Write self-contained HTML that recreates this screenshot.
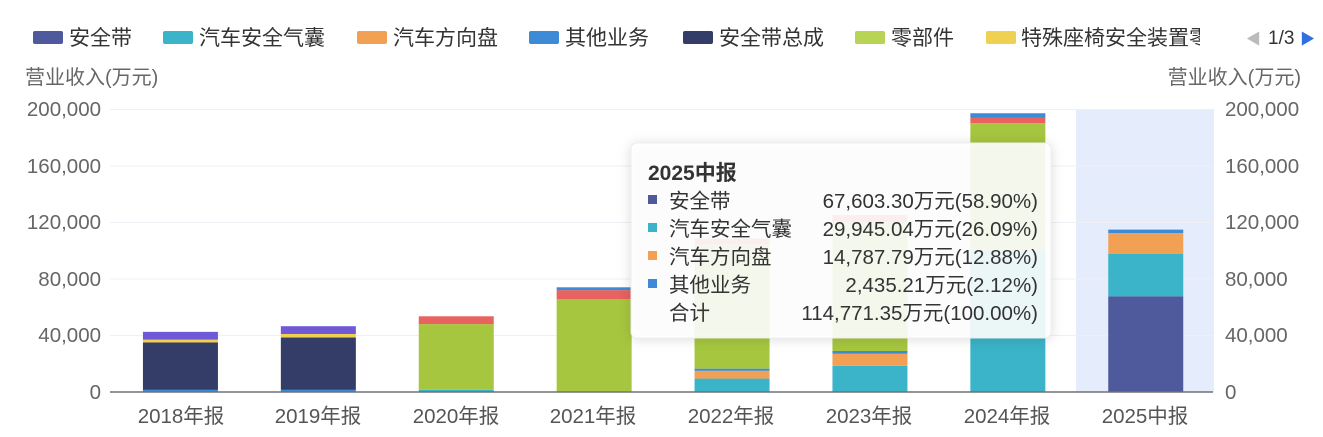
<!DOCTYPE html>
<html><head><meta charset="utf-8"><style>
body{margin:0;background:#fff;}
svg text{font-family:"Liberation Sans","Noto Sans CJK SC",sans-serif;}
</style></head><body>
<svg id="s" width="1323" height="432" xmlns="http://www.w3.org/2000/svg">
<rect x="1076" y="109" width="138" height="283" fill="#e5edfc"/>
<g stroke="#eef0f5" stroke-width="1">
<line x1="110" x2="1213" y1="109.5" y2="109.5"/><line x1="110" x2="1213" y1="166" y2="166"/>
<line x1="110" x2="1213" y1="222.5" y2="222.5"/><line x1="110" x2="1213" y1="279" y2="279"/>
<line x1="110" x2="1213" y1="335.5" y2="335.5"/>
</g>
<g id="bars"></g>
<line x1="110" x2="1213" y1="392" y2="392" stroke="#6e7079" stroke-width="1.5"/>
<g font-size="20.5" fill="#666" text-anchor="end">
<text x="101" y="116">200,000</text><text x="101" y="173">160,000</text><text x="101" y="229">120,000</text>
<text x="101" y="286">80,000</text><text x="101" y="342">40,000</text><text x="101" y="399">0</text>
</g>
<g font-size="20.5" fill="#666" text-anchor="start">
<text x="1225" y="116">200,000</text><text x="1225" y="173">160,000</text><text x="1225" y="229">120,000</text>
<text x="1225" y="286">80,000</text><text x="1225" y="342">40,000</text><text x="1225" y="399">0</text>
</g>
<text x="25" y="84" font-size="20" fill="#666">营业收入(万元)</text>
<text x="1301" y="84" font-size="20" fill="#666" text-anchor="end">营业收入(万元)</text>
<g font-size="20.5" fill="#555" text-anchor="middle">
<text x="181" y="423">2018年报</text><text x="318" y="423">2019年报</text><text x="456" y="423">2020年报</text>
<text x="593" y="423">2021年报</text><text x="731" y="423">2022年报</text><text x="869" y="423">2023年报</text>
<text x="1007" y="423">2024年报</text><text x="1145" y="423">2025中报</text>
</g>
<g font-size="21" fill="#333">
<rect x="33" y="31" width="30" height="13" rx="2" fill="#4e5a9c"/><text x="69" y="45">安全带</text>
<rect x="163" y="31" width="30" height="13" rx="2" fill="#3bb3c8"/><text x="199" y="45">汽车安全气囊</text>
<rect x="357" y="31" width="30" height="13" rx="2" fill="#f2a054"/><text x="393" y="45">汽车方向盘</text>
<rect x="529" y="31" width="30" height="13" rx="2" fill="#3d8bd6"/><text x="565" y="45">其他业务</text>
<rect x="683" y="31" width="30" height="13" rx="2" fill="#343c68"/><text x="719" y="45">安全带总成</text>
<rect x="855" y="31" width="30" height="13" rx="2" fill="#b8d455"/><text x="891" y="45">零部件</text>
<rect x="986" y="31" width="30" height="13" rx="2" fill="#f0d050"/><text x="1021" y="45">特殊座椅安全装置零</text>
<rect x="1200" y="20" width="40" height="30" fill="#fff"/>
<text x="1246" y="44" font-size="15" fill="#bbb">◀</text>
<text x="1268" y="44" font-size="19" fill="#333">1/3</text>
<text x="1300" y="44" font-size="15" fill="#2f6fe0">▶</text>
</g>
<g>
<rect x="631" y="143" width="420" height="195" rx="6" fill="#fff" fill-opacity="0.9" stroke="#eee" style="filter:drop-shadow(0 1px 6px rgba(0,0,0,0.15))"/>
<text x="648" y="180" font-size="21" font-weight="bold" fill="#333">2025中报</text>
<g font-size="20.5" fill="#333">
<rect x="648" y="195" width="9" height="9" fill="#4e5a9c"/><text x="669" y="208">安全带</text><text x="1038" y="208" text-anchor="end">67,603.30万元(58.90%)</text>
<rect x="648" y="223" width="9" height="9" fill="#3bb3c8"/><text x="669" y="236">汽车安全气囊</text><text x="1038" y="236" text-anchor="end">29,945.04万元(26.09%)</text>
<rect x="648" y="251" width="9" height="9" fill="#f2a054"/><text x="669" y="264">汽车方向盘</text><text x="1038" y="264" text-anchor="end">14,787.79万元(12.88%)</text>
<rect x="648" y="279" width="9" height="9" fill="#3d8bd6"/><text x="669" y="292">其他业务</text><text x="1038" y="292" text-anchor="end">2,435.21万元(2.12%)</text>
<text x="669" y="320">合计</text><text x="1038" y="320" text-anchor="end">114,771.35万元(100.00%)</text>
</g>
</g>
</svg>
<script>
var C={n:"#4e5a9c",t:"#3bb3c8",o:"#f2a054",b:"#3d8bd6",d:"#343c68",g:"#a6c63f",y:"#f0d050",r:"#e8625f",p:"#7059d6"};
var data=[
[["b",1500],["d",33500],["y",2000],["p",5500]],
[["b",1500],["d",37000],["y",2500],["p",5500]],
[["t",1500],["g",46500],["r",5500]],
[["g",65500],["r",6500],["b",2000]],
[["t",9500],["o",5500],["b",1500],["g",88000],["r",4000]],
[["t",18500],["o",8500],["b",2000],["g",91000],["r",5000]],
[["t",100000],["g",90000],["r",4000],["b",3000]],
[["n",67603],["t",29945],["o",14788],["b",2435]]
];
var g=document.getElementById("bars"),s=283/200000,h="";
data.forEach(function(bar,i){var cx=110+137.9*(i+0.5)+1.5,v=0;
bar.forEach(function(seg){var y1=392-v*s;v+=seg[1];var y2=392-v*s;
h+='<rect x="'+(cx-37.5)+'" y="'+y2+'" width="75" height="'+(y1-y2)+'" fill="'+C[seg[0]]+'"/>';});});
g.innerHTML=h;
</script>
</body></html>
